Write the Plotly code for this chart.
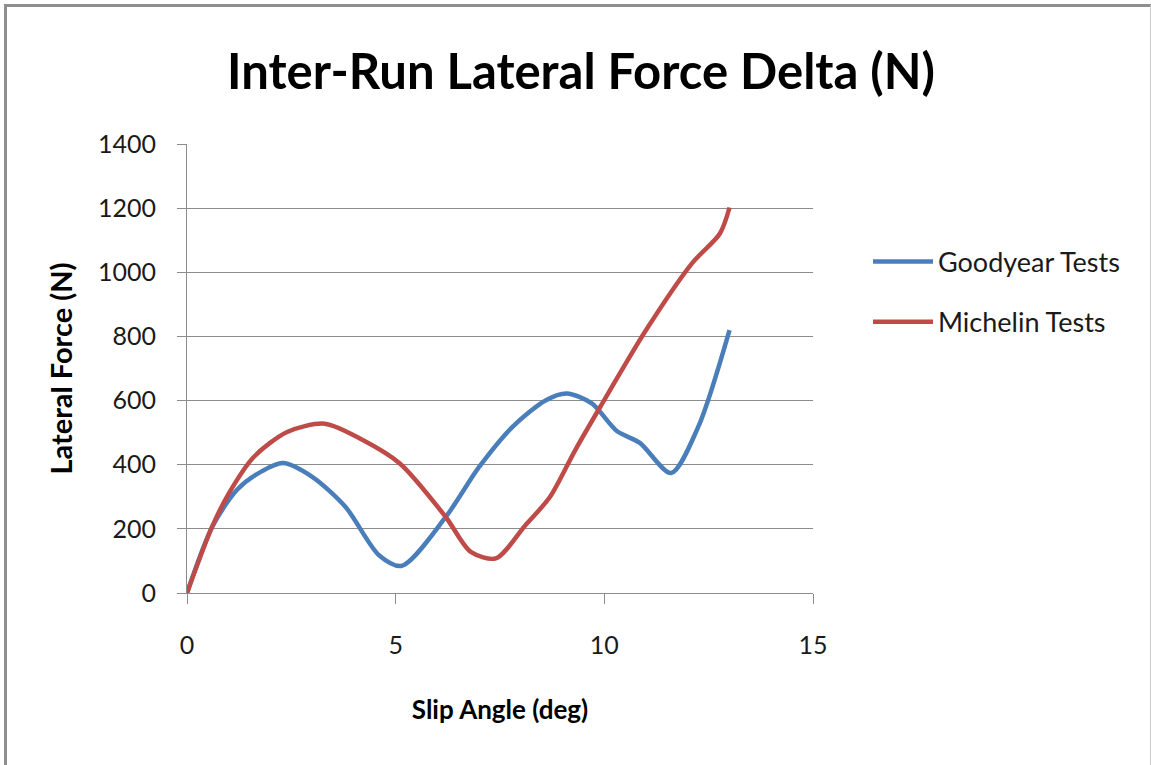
import plotly.graph_objects as go

# Slip angle (deg) and inter-run lateral force delta (N) per tyre
goodyear_slip = [0, 0.6, 1.2, 1.8, 2.3, 3.0, 3.8, 4.6, 5.15, 6.2, 7.0, 7.8, 8.6, 9.1, 9.7, 10.3, 10.85, 11.6, 12.25, 13.0]
goodyear_force = [0, 205, 322, 380, 405, 362, 268, 118, 85, 237, 393, 518, 601, 622, 591, 505, 468, 374, 518, 820]

michelin_slip = [0, 0.6, 1.0, 1.6, 2.4, 3.3, 4.2, 5.1, 6.2, 6.8, 7.4, 8.1, 8.7, 9.3, 9.9, 11.0, 12.1, 12.77, 13.0]
michelin_force = [0, 206, 310, 424, 502, 528, 478, 404, 237, 128, 108, 210, 300, 445, 580, 820, 1028, 1121, 1202]

x_ticks = [0, 5, 10, 15]
y_ticks = [0, 200, 400, 600, 800, 1000, 1200, 1400]

FONT = "Lato"
GRID = "#8c8c8c"

fig = go.Figure()
fig.add_trace(go.Scatter(
    x=goodyear_slip, y=goodyear_force, name="Goodyear Tests", mode="lines",
    legendgroup="goodyear",
    line=dict(color="#4a7ebb", width=4.5, shape="spline", smoothing=0.8),
))
fig.add_trace(go.Scatter(
    x=michelin_slip, y=michelin_force, name="Michelin Tests", mode="lines",
    legendgroup="michelin",
    line=dict(color="#be4b48", width=4.5, shape="spline", smoothing=0.8),
))

W, H = 1151, 765
L, R, T, B = 187, 338, 144, 172
pw, ph = W - L - R, H - T - B

def px_x(p):
    return (p - L) / pw

def px_y(p):
    return (H - B - p) / ph

# outer chart frame
frame = dict(type="line", xref="paper", yref="paper", layer="above")
fig.add_shape(**frame, x0=px_x(5.5), x1=px_x(5.5), y0=px_y(4), y1=px_y(770), line=dict(color="#8f8f8f", width=3))
fig.add_shape(**frame, x0=px_x(4), x1=px_x(1151), y0=px_y(5.5), y1=px_y(5.5), line=dict(color="#8f8f8f", width=3))
fig.add_shape(**frame, x0=px_x(1150.5), x1=px_x(1150.5), y0=px_y(5), y1=px_y(770), line=dict(color="#c8c8c8", width=1))

fig.update_layout(
    width=W, height=H,
    margin=dict(l=L, r=R, t=T, b=B),
    paper_bgcolor="white", plot_bgcolor="white",
    font=dict(family=FONT, color="#1a1a1a"),
    title=dict(
        text="<b>Inter-Run Lateral Force Delta (N)</b>",
        x=px_x(581), xanchor="center", xref="paper",
        y=1 - 72 / H, yanchor="middle",
        font=dict(family=FONT, size=49, color="black"),
    ),
    legend=dict(
        x=px_x(868), xanchor="left", y=px_y(292), yanchor="middle",
        font=dict(family=FONT, size=27, color="#1a1a1a"),
        itemwidth=60, tracegroupgap=22, bgcolor="rgba(0,0,0,0)",
    ),
    showlegend=True,
)

fig.update_xaxes(
    range=[0, 15], tickvals=x_ticks, ticktext=[str(v) for v in x_ticks],
    showline=True, linecolor=GRID, linewidth=1,
    ticks="outside", ticklen=10, tickcolor=GRID, tickwidth=1,
    showgrid=False, zeroline=False,
    tickfont=dict(family=FONT, size=25, color="#1a1a1a"),
    ticklabelstandoff=20,
    title=dict(text="<b>Slip Angle (deg)</b>", font=dict(family=FONT, size=26, color="black"), standoff=42),
)
fig.update_yaxes(
    range=[0, 1400], tickvals=y_ticks, ticktext=[str(v) for v in y_ticks],
    showline=True, linecolor=GRID, linewidth=1,
    ticks="outside", ticklen=9, tickcolor=GRID, tickwidth=1,
    showgrid=True, gridcolor=GRID, gridwidth=1, zeroline=False,
    tickfont=dict(family=FONT, size=25, color="#1a1a1a"),
    ticklabelstandoff=16,
    title=dict(text="<b>Lateral Force (N)</b>", font=dict(family=FONT, size=29, color="black"), standoff=16),
)

fig.write_html("out.html")
